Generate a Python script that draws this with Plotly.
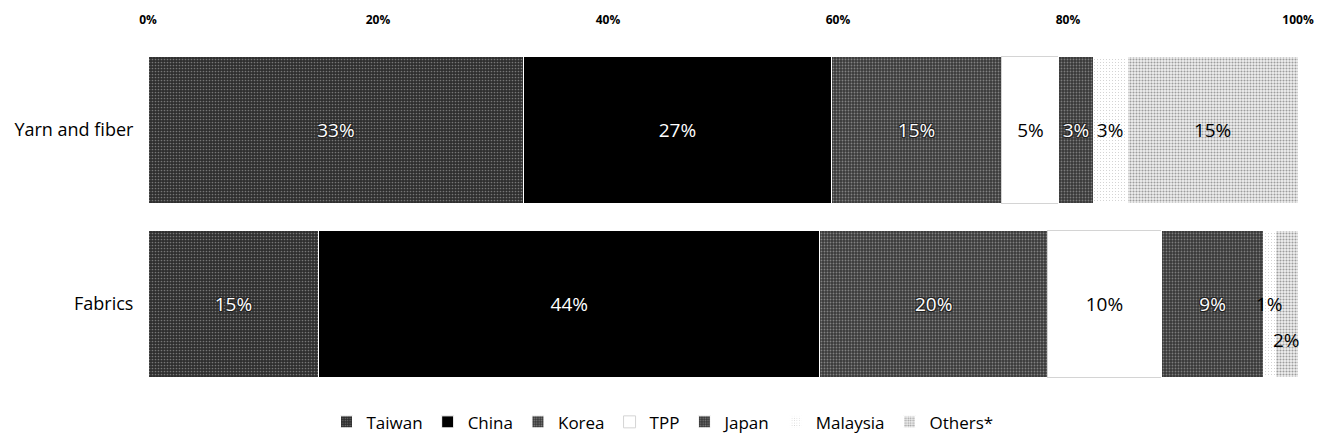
import plotly.graph_objects as go

# Share of imports by source, two product groups
categories = ["Yarn and fiber", "Fabrics"]
sources = ["Taiwan", "China", "Korea", "TPP", "Japan", "Malaysia", "Others*"]
shares = {
    "Taiwan":   [33, 15],
    "China":    [27, 44],
    "Korea":    [15, 20],
    "TPP":      [5, 10],
    "Japan":    [3, 9],
    "Malaysia": [3, 1],
    "Others*":  [15, 2],
}
tick_values = [0, 20, 40, 60, 80, 100]
tick_labels = ["0%", "20%", "40%", "60%", "80%", "100%"]

# Fill, grain pattern, edge and label colour per source
styles = {
    "Taiwan":   dict(bg="#2e2e2e", fg="#bdbdbd", shape=".", sol=0.25, edge="white",   txt="white"),
    "China":    dict(bg="#000000", fg="#000000", shape="",  sol=0.2,  edge="white",   txt="white"),
    "Korea":    dict(bg="#3a3a3a", fg="#c8c8c8", shape=".", sol=0.3,  edge="white",   txt="white"),
    "TPP":      dict(bg="#ffffff", fg="#ffffff", shape="",  sol=0.2,  edge="#d4d4d4", txt="black"),
    "Japan":    dict(bg="#383838", fg="#c0c0c0", shape=".", sol=0.3,  edge="white",   txt="white"),
    "Malaysia": dict(bg="#ffffff", fg="#9a9a9a", shape=".", sol=0.12, edge="white",   txt="black"),
    "Others*":  dict(bg="#f0f0f0", fg="#4a4a4a", shape=".", sol=0.4,  edge="white",   txt="black"),
}

# Segments too narrow for an inside label: (source, category index) -> vertical shift
narrow_labels = {("Malaysia", 1): 0, ("Others*", 1): -36}

FONT = "Open Sans"
outline = ("-1px -1px 0 #222, 1px -1px 0 #222, "
           "-1px 1px 0 #222, 1px 1px 0 #222")

fig = go.Figure()
for src in sources:
    st = styles[src]
    vals = shares[src]
    labels = ["" if (src, i) in narrow_labels else f"{v}%" for i, v in enumerate(vals)]
    fig.add_trace(go.Bar(
        name=src,
        y=categories,
        x=vals,
        orientation="h",
        text=labels,
        textposition="inside",
        insidetextanchor="middle",
        textangle=0,
        constraintext="none",
        textfont=dict(
            family=FONT, size=19, color=st["txt"],
            shadow=outline if st["txt"] == "white" and src != "China" else "none",
        ),
        marker=dict(
            color=st["bg"],
            line=dict(color=st["edge"], width=1),
            pattern=dict(shape=st["shape"], fgcolor=st["fg"], bgcolor=st["bg"],
                         size=3, solidity=st["sol"], fillmode="overlay"),
        ),
        hoverinfo="skip",
    ))

# labels for the thin segments, centred on each segment (in normalised percent)
for (src, i), shift in narrow_labels.items():
    total = sum(v[i] for v in shares.values())
    before = 0
    for s in sources:
        if s == src:
            break
        before += shares[s][i]
    val = shares[src][i]
    fig.add_annotation(
        x=100 * (before + val / 2) / total,
        y=categories[i],
        text=f"{val}%",
        showarrow=False,
        yshift=shift,
        font=dict(family=FONT, size=19, color=styles[src]["txt"]),
    )

plot_left, plot_right = 148, 1298
fig_w = 1325

fig.update_layout(
    barmode="stack",
    barnorm="percent",
    bargap=0.16,
    width=fig_w,
    height=445,
    margin=dict(l=plot_left, r=fig_w - plot_right, t=43, b=54, autoexpand=False),
    paper_bgcolor="white",
    plot_bgcolor="white",
    font=dict(family=FONT, size=17, color="black"),
    xaxis=dict(
        side="top",
        range=[0, 100],
        tickvals=tick_values,
        ticktext=tick_labels,
        showgrid=False,
        zeroline=False,
        showline=False,
        ticks="outside",
        ticklen=13,
        tickcolor="rgba(0,0,0,0)",
        tickfont=dict(family=FONT, size=12, weight="bold"),
        fixedrange=True,
    ),
    yaxis=dict(
        autorange="reversed",
        showgrid=False,
        zeroline=False,
        showline=False,
        ticks="outside",
        ticklen=10,
        tickcolor="rgba(0,0,0,0)",
        tickfont=dict(family=FONT, size=18),
    ),
    legend=dict(
        orientation="h",
        x=(fig_w / 2 - plot_left) / (plot_right - plot_left), xanchor="center",
        y=-0.09, yanchor="middle",
        font=dict(family=FONT, size=17),
        itemwidth=30,
        traceorder="normal",
    ),
    showlegend=True,
)

fig.write_html("out.html")
